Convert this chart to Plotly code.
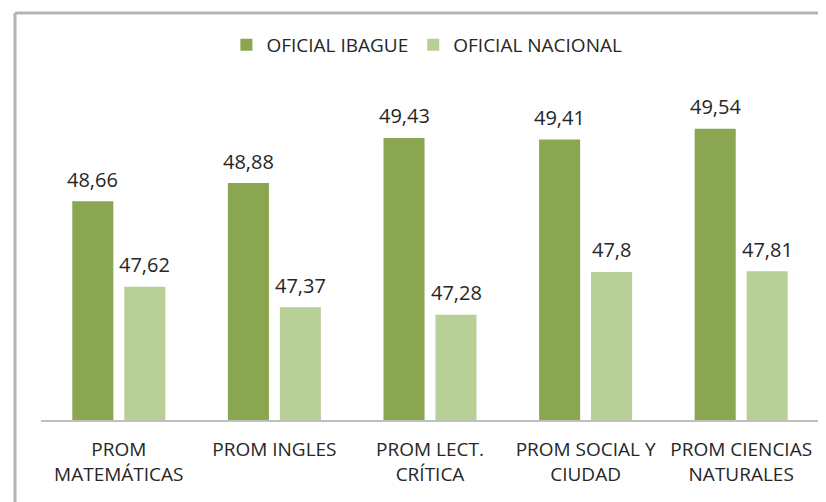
import plotly.graph_objects as go

categories = ["PROM<br>MATEMÁTICAS", "PROM INGLES", "PROM LECT.<br>CRÍTICA",
              "PROM SOCIAL Y<br>CIUDAD", "PROM CIENCIAS<br>NATURALES"]
ibague = [48.66, 48.88, 49.43, 49.41, 49.54]
nacional = [47.62, 47.37, 47.28, 47.80, 47.81]
ibague_labels = ["48,66", "48,88", "49,43", "49,41", "49,54"]
nacional_labels = ["47,62", "47,37", "47,28", "47,8", "47,81"]

DARK = "#8BA650"
LIGHT = "#B8CF98"
FONT = "Open Sans"
TXT = "#262626"

fig = go.Figure()
fig.add_trace(go.Bar(x=categories, y=ibague, name="OFICIAL IBAGUE",
                     marker=dict(color=DARK, line=dict(width=0))))
fig.add_trace(go.Bar(x=categories, y=nacional, name="OFICIAL NACIONAL",
                     marker=dict(color=LIGHT, line=dict(width=0))))

for cat, v, t in zip(categories, ibague, ibague_labels):
    fig.add_annotation(x=cat, y=v, text=t, showarrow=False, xshift=-26, yshift=22,
                       yanchor="middle", font=dict(family=FONT, size=20, color=TXT))
for cat, v, t in zip(categories, nacional, nacional_labels):
    fig.add_annotation(x=cat, y=v, text=t, showarrow=False, xshift=26, yshift=22,
                       yanchor="middle", font=dict(family=FONT, size=20, color=TXT))

# outer chart frame (left and top edges visible)
fx = (15 - 41) / 778
fy = (420 - 13) / 329
fig.add_shape(type="line", xref="paper", yref="paper",
              x0=fx, x1=1.2, y0=fy, y1=fy,
              line=dict(color="#b4b4b4", width=3))
fig.add_shape(type="line", xref="paper", yref="paper",
              x0=fx, x1=fx, y0=fy, y1=-0.5,
              line=dict(color="#b4b4b4", width=3))

fig.update_layout(
    width=818, height=494,
    margin=dict(l=33, r=7, t=83, b=82),
    paper_bgcolor="white", plot_bgcolor="white",
    barmode="group", bargap=0.332, bargroupgap=0.21,
    font=dict(family=FONT, size=18, color=TXT),
    showlegend=True,
    legend=dict(orientation="h", x=0.496, xanchor="center", y=(420 - 45) / 329, yanchor="middle",
                font=dict(family=FONT, size=19, color=TXT),
                itemwidth=30, traceorder="normal"),
)
fig.update_xaxes(showline=True, linecolor="#bfbfbf", linewidth=2, ticks="",
                 automargin=False, ticklabelstandoff=11,
                 tickfont=dict(family=FONT, size=19, color=TXT), showgrid=False)
fig.update_yaxes(range=[46.0, 50.0], visible=False, showgrid=False, automargin=False)

fig.write_html("out.html")
